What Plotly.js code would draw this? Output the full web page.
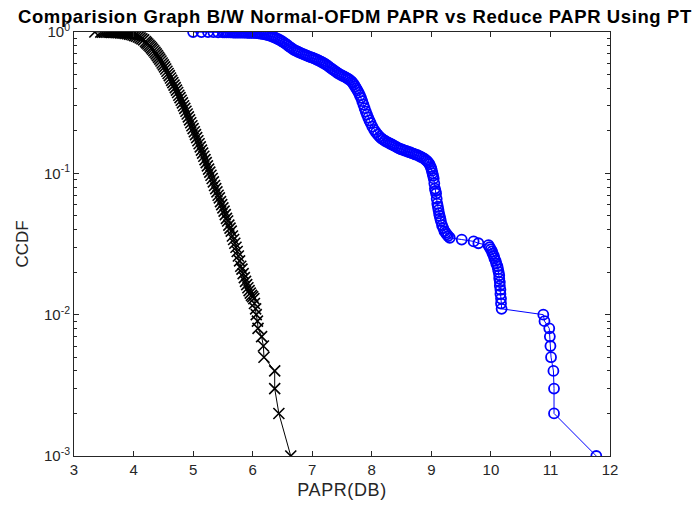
<!DOCTYPE html>
<html>
<head>
<meta charset="utf-8">
<script src="https://cdn.plot.ly/plotly-3.0.1.min.js"></script>
<style>
html,body{margin:0;padding:0;background:#fff;}
#chart{width:696px;height:511px;}
.gtitle{letter-spacing:0.6px;}
.g-xtitle text{letter-spacing:0.6px;}
</style>
</head>
<body>
<div id="chart"></div>
<script>
// Normal OFDM: PAPR (dB) and CCDF
var normalPAPR = [3.35,3.45,3.48,3.51,3.54,3.57,3.60,3.63,3.66,3.69,3.72,3.75,3.78,3.81,3.84,3.87,3.90,3.93,3.96,3.99,
  4.02,4.05,4.08,4.11,4.14,4.17,4.20,4.22,4.24,4.26,4.28,4.30,4.32,4.34,4.36,4.38,4.40,4.42,4.44,4.46,4.48,4.50,
  4.52,4.54,4.56,4.58,4.60,4.62,4.64,4.66,4.68,4.70,4.72,4.74,4.76,4.78,4.80,4.82,4.84,4.86,4.88,4.90,4.92,4.94,
  4.96,4.98,5.00,5.02,5.04,5.06,5.08,5.10,5.12,5.14,5.16,5.18,5.20,5.22,5.24,5.26,5.28,5.30,5.32,5.34,5.36,5.38,
  5.40,5.42,5.44,5.46,5.48,5.50,5.52,5.54,5.56,5.58,5.60,5.62,5.64,5.66,5.68,5.70,5.72,5.74,5.76,5.78,5.80,5.82,
  5.84,5.86,5.88,5.90,5.92,5.94,5.96,5.98,6.00,
  6.02,6.03,6.05,6.06,6.08,6.09,6.15,6.18,6.19,6.37,6.37,6.44,6.64];
var normalCCDF = [1.000,0.999,0.9988,0.9982,0.9975,0.9968,0.996,0.995,0.994,0.9925,0.9905,0.988,0.986,0.983,0.980,0.976,0.972,0.966,0.960,0.952,
  0.943,0.933,0.922,0.909,0.895,0.879,0.855,0.838,0.822,0.806,0.789,0.772,0.755,0.737,0.719,0.700,0.681,0.662,0.643,0.624,0.604,0.585,
  0.566,0.547,0.528,0.509,0.491,0.473,0.455,0.438,0.421,0.404,0.388,0.373,0.357,0.343,0.329,0.315,0.301,0.288,0.275,0.263,0.251,0.239,
  0.228,0.217,0.207,0.197,0.188,0.179,0.170,0.162,0.154,0.146,0.139,0.132,0.125,0.119,0.113,0.107,0.102,0.097,0.092,0.087,0.082,0.078,
  0.074,0.070,0.067,0.063,0.060,0.057,0.054,0.051,0.048,0.046,0.043,0.041,0.039,0.036,0.034,0.032,0.030,0.028,0.026,0.024,0.022,0.021,
  0.0195,0.0183,0.0172,0.0163,0.0155,0.0148,0.0142,0.0137,0.0134,
  0.013,0.012,0.011,0.010,0.009,0.008,0.007,0.006,0.005,0.004,0.003,0.002,0.001];

// Reduced PAPR using PTS: PAPR (dB) and CCDF
var ptsPAPR = [5.00,5.14,5.25,5.34,5.42,5.50,5.53,5.56,5.59,5.62,5.65,5.68,5.71,5.74,5.77,5.80,5.83,5.86,5.89,5.92,5.95,5.98,
  6.01,6.04,6.07,6.10,6.13,6.16,6.19,6.22,6.25,6.28,6.31,6.34,6.37,6.40,6.43,6.46,6.49,6.52,6.55,6.58,6.61,6.64,6.67,6.70,
  6.73,6.76,6.79,6.82,6.85,6.88,6.91,6.94,6.97,7.00,7.03,7.06,7.09,7.12,7.15,7.18,7.21,7.24,7.27,7.30,7.33,7.36,7.39,7.42,
  7.45,7.48,7.51,7.54,7.57,7.60,7.63,7.66,7.68,7.70,7.72,7.74,7.76,7.78,7.80,7.82,7.84,7.86,7.88,7.90,7.92,7.94,7.96,7.98,
  8.01,8.04,8.07,8.10,8.13,8.16,8.19,8.22,8.25,8.28,8.31,8.34,8.37,8.40,8.43,8.46,8.49,8.52,8.55,8.58,8.61,8.64,8.67,8.70,
  8.73,8.76,8.79,8.82,8.85,8.88,8.91,8.93,8.95,8.97,8.99,9.00,9.01,9.02,9.03,9.04,9.05,9.06,9.07,9.08,9.09,9.10,9.11,9.12,
  9.13,9.14,9.15,9.16,9.18,9.20,9.22,9.24,9.26,9.28,9.31,
  9.51,9.71,9.79,9.96,9.98,10.00,10.02,10.03,10.05,10.06,10.08,10.09,10.11,10.12,10.13,10.14,10.14,10.15,10.15,
  10.16,10.16,10.17,10.17,10.18,10.88,10.90,10.98,10.99,11.00,11.01,11.05,11.06,11.06,11.77];
var ptsCCDF = [1.000,0.999,0.998,0.997,0.996,0.995,0.9945,0.994,0.9935,0.993,0.9925,0.992,0.9915,0.991,0.9905,0.990,0.9895,0.989,0.9885,0.988,0.9875,0.987,
  0.986,0.985,0.983,0.980,0.976,0.972,0.966,0.960,0.953,0.945,0.935,0.925,0.914,0.902,0.889,0.875,0.860,0.845,0.828,0.810,0.792,0.775,0.759,0.745,
  0.735,0.725,0.715,0.706,0.697,0.689,0.681,0.673,0.665,0.658,0.650,0.642,0.634,0.625,0.616,0.606,0.596,0.585,0.573,0.560,0.548,0.537,0.526,0.515,
  0.506,0.498,0.490,0.483,0.475,0.467,0.458,0.447,0.437,0.425,0.412,0.399,0.386,0.372,0.357,0.342,0.324,0.306,0.289,0.273,0.260,0.248,0.237,0.227,
  0.214,0.203,0.195,0.188,0.182,0.177,0.173,0.170,0.167,0.165,0.162,0.160,0.157,0.155,0.152,0.150,0.148,0.147,0.145,0.144,0.142,0.141,0.139,0.138,
  0.136,0.135,0.133,0.131,0.129,0.127,0.124,0.122,0.119,0.116,0.111,0.108,0.104,0.100,0.096,0.092,0.085,0.078,0.075,0.072,0.066,0.061,0.058,0.055,
  0.052,0.050,0.048,0.046,0.043,0.041,0.039,0.038,0.037,0.036,0.035,
  0.034,0.033,0.032,0.031,0.030,0.029,0.028,0.027,0.026,0.025,0.024,0.023,0.022,0.021,0.020,0.019,0.018,0.017,0.016,
  0.015,0.014,0.013,0.012,0.011,0.010,0.009,0.008,0.007,0.006,0.005,0.004,0.003,0.002,0.001];

var xTicks = [3,4,5,6,7,8,9,10,11,12];
var yTickVals = [0.001,0.01,0.1,1];
var yTickText = ['10<sup>-3</sup>','10<sup>-2</sup>','10<sup>-1</sup>','10<sup>0</sup>'];
var titleText = 'Comparision Graph B/W Normal-OFDM PAPR vs Reduce PAPR Using PT';

var minorY = [];
for (var d = 0.001; d < 1; d *= 10) { for (var k = 2; k <= 9; k++) minorY.push(+(d * k).toPrecision(3)); }

var axisColor = '#262626';
var fontFam = '"Liberation Sans", Arial, Helvetica, sans-serif';

var traces = [
  {x: normalPAPR, y: normalCCDF, type: 'scatter', mode: 'lines+markers', name: 'Normal OFDM',
   line: {color: '#000000', width: 1},
   marker: {symbol: 'x-thin-open', size: 11, color: '#000000', line: {color: '#000000', width: 1.6}}},
  {x: ptsPAPR, y: ptsCCDF, type: 'scatter', mode: 'lines+markers', name: 'PTS',
   line: {color: '#0000ff', width: 1},
   marker: {symbol: 'circle-open', size: 10, color: '#0000ff', line: {color: '#0000ff', width: 1.8}}}
];

var layout = {
  width: 696, height: 511,
  margin: {l: 74, r: 86, t: 32, b: 55},
  paper_bgcolor: '#ffffff', plot_bgcolor: '#ffffff',
  showlegend: false,
  font: {family: fontFam, color: axisColor},
  title: {text: '<b>' + titleText + '</b>', font: {family: fontFam, size: 18.5, color: '#000000'},
          x: 18/696, xref: 'container', xanchor: 'left', y: 1 - 16.5/511, yref: 'container', yanchor: 'middle'},
  xaxis: {range: [3, 12], tickmode: 'array', tickvals: xTicks, ticktext: xTicks.map(String),
          ticks: 'inside', ticklen: 5, tickcolor: axisColor, tickwidth: 1,
          showline: true, linecolor: axisColor, linewidth: 1, mirror: 'allticks',
          showgrid: false, zeroline: false, tickfont: {size: 15, color: axisColor},
          title: {text: 'PAPR(DB)', font: {size: 18, color: axisColor}, standoff: 6}},
  yaxis: {type: 'log', range: [-3, 0], tickmode: 'array', tickvals: yTickVals, ticktext: yTickText,
          ticks: 'inside', ticklen: 5, tickcolor: axisColor, tickwidth: 1,
          minor: {tickmode: 'array', tickvals: minorY, ticks: 'inside', ticklen: 3, tickcolor: axisColor, showgrid: false},
          showline: true, linecolor: axisColor, linewidth: 1, mirror: 'allticks',
          showgrid: false, zeroline: false, tickfont: {size: 15, color: axisColor},
          title: {text: 'CCDF', font: {size: 17, color: axisColor}, standoff: 11}}
};

Plotly.newPlot('chart', traces, layout, {displayModeBar: false, staticPlot: true});
</script>
</body>
</html>
